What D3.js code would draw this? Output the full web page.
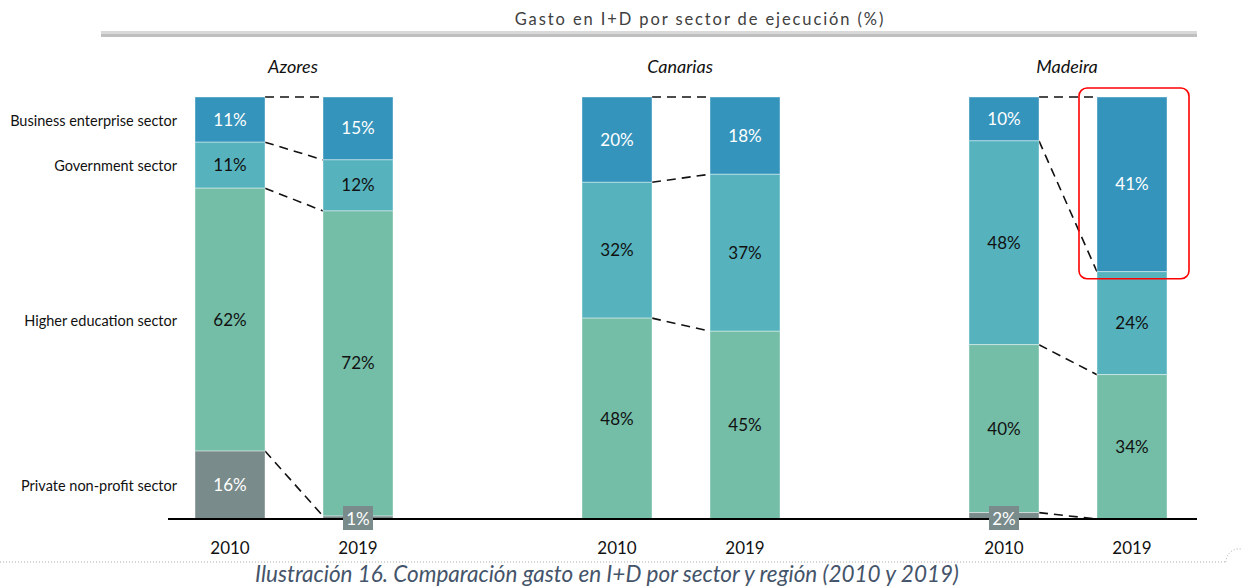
<!DOCTYPE html>
<html>
<head>
<meta charset="utf-8">
<script src="https://cdn.jsdelivr.net/npm/d3@7"></script>
<style>
  body { margin: 0; background: #fff; }
  text { font-family: Lato, "Open Sans", sans-serif; }
</style>
</head>
<body>
<div id="myVis"></div>
<script>
var width = 1241, height = 588;

// data (shares in %, bars in order region x year)
const regions = ["Azores", "Canarias", "Madeira"];
const years = ["2010", "2019"];
const sectors = ["Business enterprise sector", "Government sector", "Higher education sector", "Private non-profit sector"];
const business   = [10.7, 14.9, 20.2, 18.3, 10.4, 41.4];
const government = [10.9, 12.1, 32.2, 37.2, 48.3, 24.4];
const higherEdu  = [62.3, 72.3, 47.6, 44.5, 39.8, 34.2];
const privateNP  = [16.1, 0.7, 0.0, 0.0, 1.5, 0.0];

const colors = ["#3594bc", "#56b3be", "#74bda7", "#7a8b8b"];
const textColors = ["#fff", "#111", "#111", "#fff"];

const svg = d3.select("#myVis")
    .append("svg")
        .attr("width", width)
        .attr("height", height);

// build bar list from the arrays
const bars = [];
regions.forEach((r, i) => {
    years.forEach((yr, j) => {
        const k = i * 2 + j;
        const vals = [business[k], government[k], higherEdu[k], privateNP[k]];
        let top = 100;
        const segs = vals.map((v, s) => {
            const seg = {sector: s, value: v, y1: top, y0: top - v};
            top -= v;
            return seg;
        });
        bars.push({region: r, year: yr, segs: segs});
    });
});

// scales
var xRegion = d3.scaleBand()
    .domain(regions)
    .range([100.5, 1261.5]);

var xYear = d3.scalePoint()
    .domain(years)
    .range([129.5, 257.5]);

var barW = 70;

var yScale = d3.scaleLinear()
    .domain([0, 100])
    .range([519, 97]);

const cx = d => xRegion(d.region) + xYear(d.year);

// title + grey band
svg.append("text")
    .attr("x", 700).attr("y", 25)
    .attr("text-anchor", "middle")
    .attr("font-size", 16.5)
    .attr("letter-spacing", 1.9)
    .attr("fill", "#404040")
    .text("Gasto en I+D por sector de ejecución (%)");
svg.append("rect").attr("x", 101).attr("y", 31).attr("width", 1096).attr("height", 3).attr("fill", "#d9d9d9");
svg.append("rect").attr("x", 101).attr("y", 34).attr("width", 1096).attr("height", 3).attr("fill", "#bfbfbf");

// region names
svg.selectAll(".region")
    .data(regions)
    .enter()
    .append("text")
        .attr("x", d => xRegion(d) + xRegion.bandwidth() / 2 - 1)
        .attr("y", 73)
        .attr("text-anchor", "middle")
        .attr("font-size", 18)
        .attr("font-style", "italic")
        .attr("fill", "#111")
        .text(d => d);

// dashed connectors between 2010 and 2019
regions.forEach(r => {
    const a = bars.find(b => b.region == r && b.year == "2010");
    const b = bars.find(b => b.region == r && b.year == "2019");
    const bounds = [0, 1, 2, 3].map(s => [a.segs[s].y1, b.segs[s].y1]);
    bounds.forEach(p => {
        svg.append("line")
            .attr("x1", cx(a) + barW / 2).attr("y1", yScale(p[0]))
            .attr("x2", cx(b) - barW / 2).attr("y2", yScale(p[1]))
            .attr("stroke", "#111")
            .attr("stroke-width", 1.6)
            .attr("stroke-dasharray", "9,6");
    });
});

// stacked bars
const barG = svg.selectAll(".bar")
    .data(bars)
    .enter()
    .append("g");

barG.selectAll("rect")
    .data(d => d.segs.filter(s => s.value > 0).map(s => Object.assign({x: cx(d)}, s)))
    .enter()
    .append("rect")
        .attr("x", d => d.x - barW / 2)
        .attr("y", d => yScale(d.y1))
        .attr("width", barW)
        .attr("height", d => yScale(d.y0) - yScale(d.y1))
        .attr("fill", d => colors[d.sector])
        .attr("stroke", "#ffffff")
        .attr("stroke-opacity", 0.5)
        .attr("stroke-width", 0.8);

// baseline
svg.append("line")
    .attr("x1", 168).attr("x2", 1197)
    .attr("y1", yScale(0)).attr("y2", yScale(0))
    .attr("stroke", "#000").attr("stroke-width", 2);

// value labels
bars.forEach(b => {
    b.segs.forEach(s => {
        if (s.value < 0.5) return;
        const lbl = Math.round(s.value) + "%";
        if (s.value < 3) {
            svg.append("rect")
                .attr("x", cx(b) - 15).attr("y", yScale(0) - 13)
                .attr("width", 30).attr("height", 24)
                .attr("fill", colors[3]);
            svg.append("text")
                .attr("x", cx(b)).attr("y", yScale(0) + 6)
                .attr("text-anchor", "middle")
                .attr("font-size", 17)
                .attr("fill", "#fff")
                .text(lbl);
        } else {
            svg.append("text")
                .attr("x", cx(b)).attr("y", yScale((s.y0 + s.y1) / 2) + 6)
                .attr("text-anchor", "middle")
                .attr("font-size", 17)
                .attr("fill", textColors[s.sector])
                .text(lbl);
        }
    });
});

// sector labels on the left, next to first bar
const first = bars[0];
svg.selectAll(".sector")
    .data(sectors)
    .enter()
    .append("text")
        .attr("x", 177)
        .attr("y", (d, i) => yScale((first.segs[i].y0 + first.segs[i].y1) / 2) + 6)
        .attr("text-anchor", "end")
        .attr("font-size", 14.5)
        .attr("fill", "#111")
        .text(d => d);

// year labels
svg.selectAll(".year")
    .data(bars)
    .enter()
    .append("text")
        .attr("x", d => cx(d))
        .attr("y", 554)
        .attr("text-anchor", "middle")
        .attr("font-size", 17)
        .attr("fill", "#111")
        .text(d => d.year);

// red highlight around Madeira 2019 business
const hb = bars[5];
svg.append("rect")
    .attr("x", cx(hb) - barW / 2 - 18)
    .attr("y", yScale(hb.segs[0].y1) - 9)
    .attr("width", barW + 40)
    .attr("height", yScale(hb.segs[0].y0) - yScale(hb.segs[0].y1) + 16)
    .attr("rx", 8)
    .attr("fill", "none")
    .attr("stroke", "#ff0000")
    .attr("stroke-width", 1.6);

// footer: dotted rule, page mark, caption
svg.append("line")
    .attr("x1", 0).attr("x2", 1226).attr("y1", 562).attr("y2", 562)
    .attr("stroke", "#aaa").attr("stroke-width", 1).attr("stroke-dasharray", "1,2");
svg.append("path")
    .attr("d", "M1226,562 A13,13 0 0 1 1241,549")
    .attr("fill", "none").attr("stroke", "#aaa").attr("stroke-dasharray", "1,2");

svg.append("text")
    .attr("x", 607).attr("y", 582)
    .attr("text-anchor", "middle")
    .attr("font-size", 22.5)
    .attr("font-style", "italic")
    .attr("fill", "#44546a")
    .text("Ilustración 16. Comparación gasto en I+D por sector y región (2010 y 2019)");
</script>
</body>
</html>
